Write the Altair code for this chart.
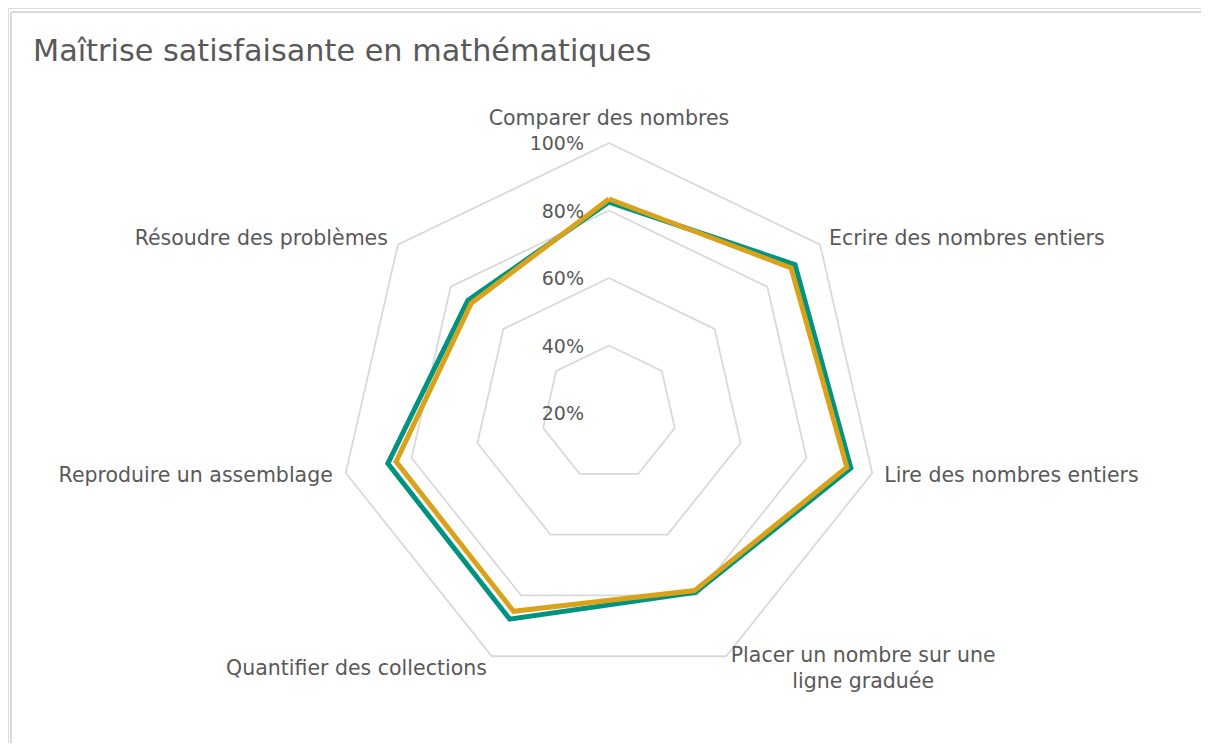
import math
import altair as alt
import pandas as pd

# ---------------- data ----------------
categories = [
    "Comparer des nombres",
    "Ecrire des nombres entiers",
    "Lire des nombres entiers",
    "Placer un nombre sur une ligne graduée",
    "Quantifier des collections",
    "Reproduire un assemblage",
    "Résoudre des problèmes",
]
serie_teal = [0.825, 0.905, 0.935, 0.790, 0.878, 0.872, 0.735]
serie_gold = [0.834, 0.890, 0.923, 0.784, 0.852, 0.847, 0.722]
grid_levels = [0.2, 0.4, 0.6, 0.8, 1.0]
tick_labels = ["20%", "40%", "60%", "80%", "100%"]
r_min, r_max = 0.2, 1.0
title_text = "Maîtrise satisfaisante en mathématiques"

# ---------------- layout / style ----------------
W, H = 1193, 735
R_PX = 270.0
CX, CY = 609 - 8, 413 - 8
x_dom = [-CX / R_PX, (W - CX) / R_PX]
y_dom = [(CY - H) / R_PX, CY / R_PX]
TEAL = "#00937f"
GOLD = "#d9a21b"
TXT = "#595959"
GRID = "#d9d9d9"
FONT = "DejaVu Sans"

n = len(categories)

rows = []
for name, vals in (("teal", serie_teal), ("gold", serie_gold)):
    for i in range(n + 1):
        rows.append({"serie": name, "idx": i % n, "order": i, "value": vals[i % n]})
series_df = pd.DataFrame(rows)

grid_rows = []
for lv in grid_levels[1:]:
    for i in range(n + 1):
        grid_rows.append({"level": lv, "idx": i % n, "order": i, "value": lv})
grid_df = pd.DataFrame(grid_rows)

cat_df = pd.DataFrame({"idx": list(range(n)), "cat": categories, "value": [r_max] * n})
tick_df = pd.DataFrame({"value": grid_levels, "lab": tick_labels, "idx": [0] * len(grid_levels)})

polar = dict(
    angle=f"2*PI*datum.idx/{n}",
    rn=f"(datum.value-{r_min})/({r_max}-{r_min})",
)
xs = alt.X("px:Q", scale=alt.Scale(domain=x_dom, nice=False, zero=False), axis=None)
ys = alt.Y("py:Q", scale=alt.Scale(domain=y_dom, nice=False, zero=False), axis=None)


def to_xy(ch):
    return ch.transform_calculate(**polar).transform_calculate(
        px="datum.rn*sin(datum.angle)", py="datum.rn*cos(datum.angle)"
    )


grid = to_xy(alt.Chart(grid_df)).mark_line(
    stroke=GRID, strokeWidth=1.8, strokeJoin="miter"
).encode(x=xs, y=ys, detail="level:N", order="order:Q")


def serie_line(name, color, width):
    return to_xy(alt.Chart(series_df).transform_filter(f"datum.serie=='{name}'")).mark_line(
        stroke=color, strokeWidth=width, strokeJoin="miter", strokeMiterLimit=10
    ).encode(x=xs, y=ys, order="order:Q")


line_teal = serie_line("teal", TEAL, 5)
line_gold = serie_line("gold", GOLD, 5)

label_style = {
    0: dict(align="center", dx=0, dy=-24, baseline="middle"),
    1: dict(align="left", dx=9, dy=-6, baseline="middle"),
    2: dict(align="left", dx=12, dy=3, baseline="middle"),
    3: dict(align="center", dx=137, dy=-10, baseline="top", split=True, lineHeight=26),
    4: dict(align="right", dx=-5, dy=13, baseline="middle"),
    5: dict(align="right", dx=-13, dy=3, baseline="middle"),
    6: dict(align="right", dx=-10, dy=-6, baseline="middle"),
}

cat_layers = []
for i in range(n):
    st = dict(label_style[i])
    split = st.pop("split", False)
    kw = dict(font=FONT, fontSize=20.5, color=TXT, **st)
    base = to_xy(alt.Chart(cat_df).transform_filter(f"datum.idx=={i}"))
    if split:
        base = base.transform_calculate(
            cat2="split(replace(datum.cat, 'sur une ', 'sur une|'), '|')"
        )
        text_enc = alt.Text("cat2:N")
    else:
        text_enc = alt.Text("cat:N")
    cat_layers.append(base.mark_text(**kw).encode(x=xs, y=ys, text=text_enc))

ticks = to_xy(alt.Chart(tick_df)).mark_text(
    font=FONT, fontSize=19, color=TXT, align="right", baseline="middle", dx=-25, dy=1
).encode(x=xs, y=ys, text="lab:N")

title = alt.Chart(pd.DataFrame({"t": [title_text]})).mark_text(
    font=FONT, fontSize=30.3, color=TXT, align="left", baseline="middle"
).encode(x=alt.value(25), y=alt.value(44), text="t:N")

border_top = alt.Chart(pd.DataFrame({"a": [0]})).mark_rule(color=GRID, strokeWidth=2).encode(
    x=alt.value(3), x2=alt.value(W + 10), y=alt.value(4)
)
border_left = alt.Chart(pd.DataFrame({"a": [0]})).mark_rule(color=GRID, strokeWidth=2).encode(
    x=alt.value(3), y=alt.value(4), y2=alt.value(H + 10)
)

chart = alt.layer(
    border_top, border_left, grid, line_teal, line_gold, ticks, title, *cat_layers
).properties(
    width=W, height=H, autosize=alt.AutoSizeParams(type="none"), padding=0
).configure_view(stroke=None).configure(background="white")

chart.save("out.html", embed_options={"renderer": "svg", "actions": False})
